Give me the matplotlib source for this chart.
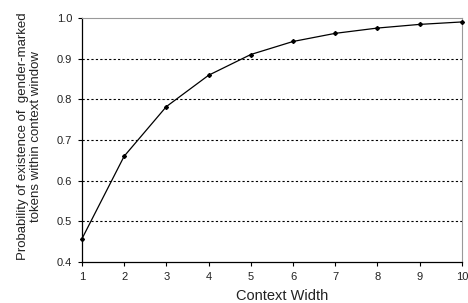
import matplotlib
matplotlib.use("Agg")
import matplotlib.pyplot as plt

context_width = [1, 2, 3, 4, 5, 6, 7, 8, 9, 10]
probability = [0.457, 0.660, 0.782, 0.859, 0.910, 0.942, 0.962, 0.975, 0.984, 0.990]
y_ticks = [0.4, 0.5, 0.6, 0.7, 0.8, 0.9, 1.0]

plt.rcParams['font.family'] = ['Liberation Sans', 'DejaVu Sans']

fig = plt.figure(figsize=(4.68, 3.03), dpi=100)
ax = fig.add_axes([0.175, 0.135, 0.812, 0.806])

for y in y_ticks[1:-1]:
    ax.axhline(y, color='black', lw=0.8, ls=(0, (2, 2)), zorder=1)

ax.plot(context_width, probability, color='black', lw=0.9, marker='D', ms=2.0, zorder=3, clip_on=False)

ax.set_xlim(1, 10)
ax.set_ylim(0.4, 1.0)
ax.set_xticks(context_width)
ax.set_yticks(y_ticks)
ax.set_yticklabels([f"{v:.1f}" for v in y_ticks])
ax.tick_params(axis='both', labelsize=8, length=3, width=0.8, direction='out', color='black', pad=4,
               labelcolor='#222222')

for s in ['left', 'bottom']:
    ax.spines[s].set_color('black')
    ax.spines[s].set_linewidth(0.9)
for s in ['top', 'right']:
    ax.spines[s].set_color('#999999')
    ax.spines[s].set_linewidth(0.8)

ax.set_xlabel('Context Width', fontsize=10.5, va='center', color='#222222')
ax.xaxis.set_label_coords(0.526, -0.139)
ax.set_ylabel('Probability of existence of  gender-marked\ntokens within context window', fontsize=9.5,
              linespacing=1.12, va='center', color='#222222')
ax.yaxis.set_label_coords(-0.139, 0.514)

fig.savefig('out.png', dpi=100)
